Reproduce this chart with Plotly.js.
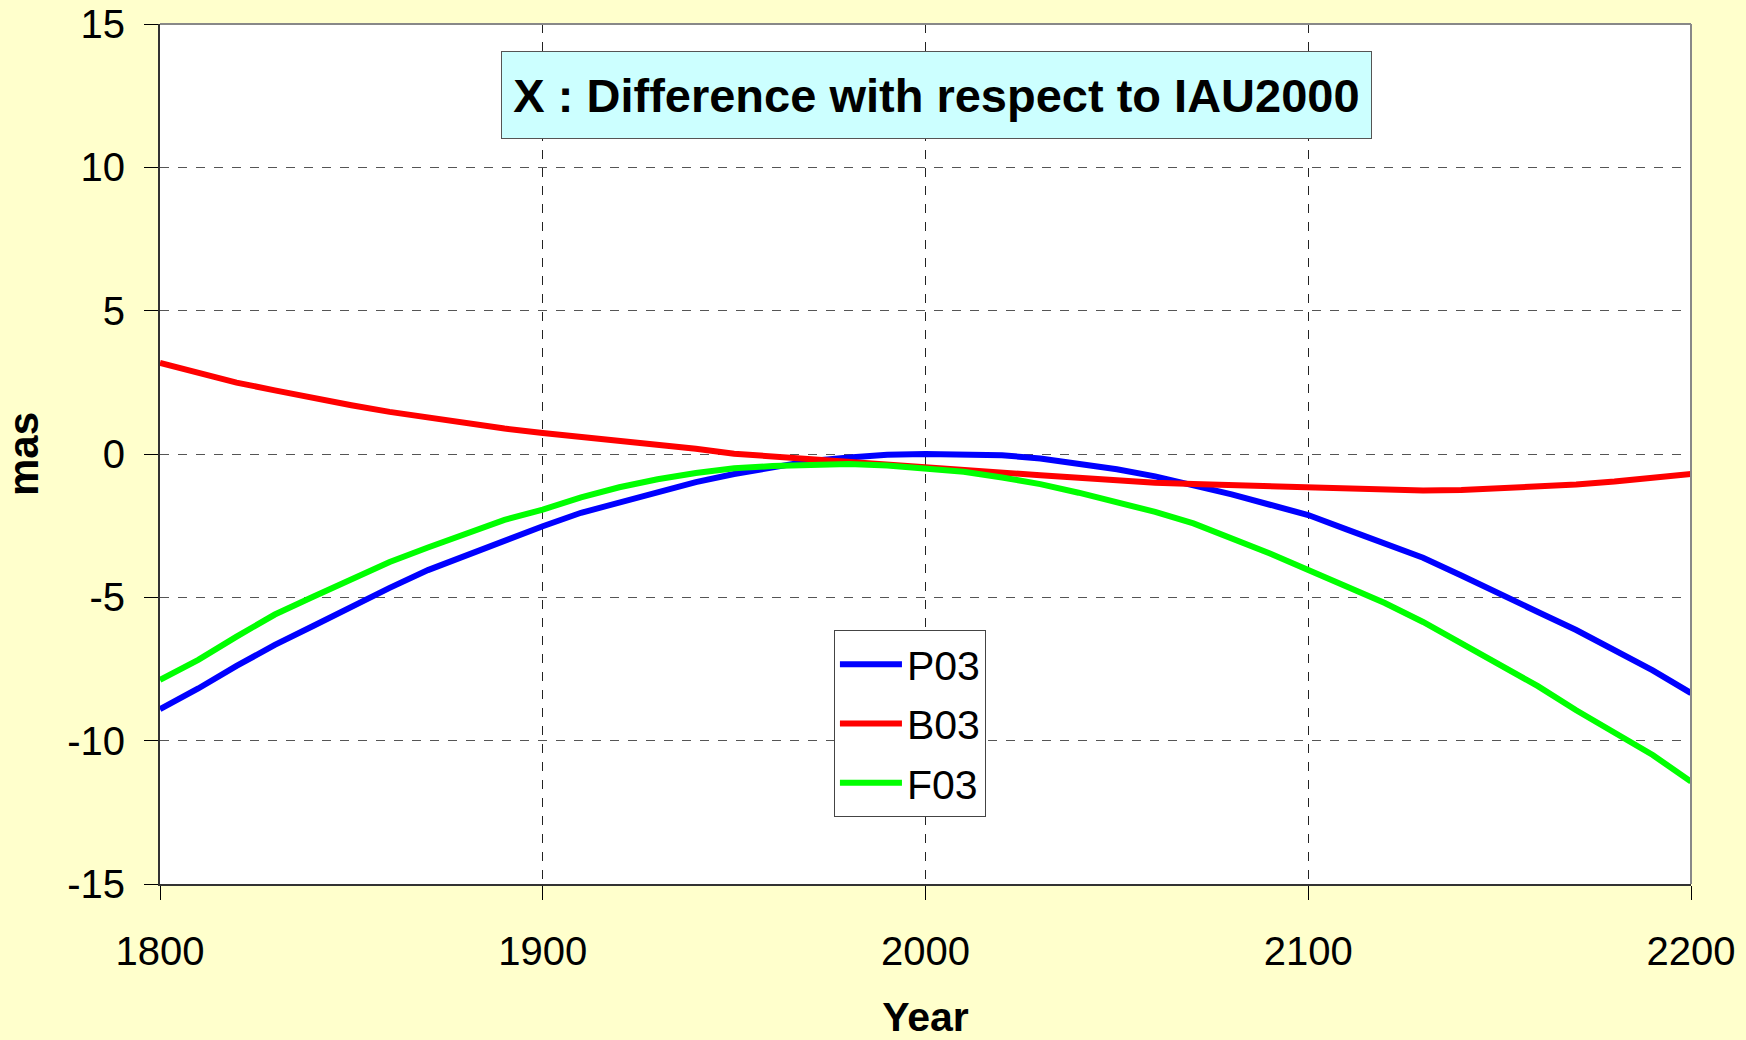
<!DOCTYPE html>
<html>
<head>
<meta charset="utf-8">
<script src="https://cdn.plot.ly/plotly-3.0.1.min.js"></script>
<style>
  html, body { margin: 0; padding: 0; background: #FFFFCC; }
  #chart { width: 1746px; height: 1040px; }
</style>
</head>
<body>
<div id="chart"></div>
<script>
const years = [1800,1810,1820,1830,1840,1850,1860,1870,1880,1890,
               1900,1910,1920,1930,1940,1950,1960,1970,1980,1990,
               2000,2010,2020,2030,2040,2050,2060,2070,2080,2090,
               2100,2110,2120,2130,2140,2150,2160,2170,2180,2190,2200];

const p03 = [-8.90,-8.18,-7.39,-6.66,-6.00,-5.33,-4.67,-4.05,-3.53,-3.00,
             -2.52,-2.05,-1.68,-1.33,-0.98,-0.70,-0.46,-0.24,-0.12,-0.03,
              0.00, 0.00,-0.04,-0.16,-0.33,-0.53,-0.78,-1.07,-1.41,-1.77,
             -2.13,-2.63,-3.13,-3.62,-4.24,-4.90,-5.51,-6.14,-6.83,-7.55,-8.34];

const b03 = [ 3.18, 2.85, 2.49, 2.22, 1.95, 1.70, 1.47, 1.27, 1.06, 0.89,
              0.73, 0.60, 0.46, 0.32, 0.18, 0.01,-0.09,-0.18,-0.25,-0.35,
             -0.48,-0.57,-0.66,-0.74,-0.83,-0.93,-1.00,-1.05,-1.09,-1.14,
             -1.19,-1.24,-1.27,-1.27,-1.26,-1.20,-1.12,-1.06,-0.96,-0.84,-0.70];

const f03 = [-7.88,-7.18,-6.37,-5.60,-4.98,-4.35,-3.77,-3.26,-2.80,-2.30,
             -1.94,-1.51,-1.16,-0.88,-0.66,-0.50,-0.42,-0.37,-0.35,-0.40,
             -0.49,-0.62,-0.82,-1.05,-1.35,-1.68,-2.02,-2.42,-2.92,-3.47,
             -4.05,-4.65,-5.20,-5.86,-6.60,-7.34,-8.10,-8.94,-9.72,-10.50,-11.43];

const seriesNames = ['P03','B03','F03'];
const xTickVals = [1800,1900,2000,2100,2200];
const xTickText = ['1800','1900','2000','2100','2200'];
const yTickVals = [-15,-10,-5,0,5,10,15];
const yTickText = ['-15','-10','-5','0','5','10','15'];
const chartTitle = 'X : Difference with respect to IAU2000';
const xTitle = 'Year';
const yTitle = 'mas';

const FONT = 'Liberation Sans, Arial, Helvetica, sans-serif';

const traces = [
  {x: years, y: p03, name: seriesNames[0], legendgroup: 'g1', type: 'scatter', mode: 'lines',
   line: {color: '#0000FF', width: 6}},
  {x: years, y: b03, name: seriesNames[1], legendgroup: 'g2', type: 'scatter', mode: 'lines',
   line: {color: '#FF0000', width: 6}},
  {x: years, y: f03, name: seriesNames[2], legendgroup: 'g3', type: 'scatter', mode: 'lines',
   line: {color: '#00FF00', width: 6}}
];

const layout = {
  width: 1746, height: 1040,
  paper_bgcolor: '#FFFFCC',
  plot_bgcolor: '#FFFFFF',
  margin: {l: 160, r: 55, t: 24, b: 156},
  font: {family: FONT, color: '#000000', size: 40},
  showlegend: true,
  legend: {
    x: 0.4402, y: 0.2953, xanchor: 'left', yanchor: 'top',
    bgcolor: '#FFFFFF', bordercolor: '#444444', borderwidth: 1,
    font: {family: FONT, size: 41, color: '#000000'},
    tracegroupgap: 3,
    itemwidth: 62
  },
  xaxis: {
    range: [1800, 2200],
    tickvals: xTickVals, ticktext: xTickText,
    ticks: 'outside', ticklen: 14, tickwidth: 1, tickcolor: '#000000',
    showline: true, linecolor: '#333333', linewidth: 2,
    showgrid: true, gridcolor: '#222222', gridwidth: 1, griddash: 'dash',
    zeroline: false,
    tickfont: {family: FONT, size: 40, color: '#000000'},
    ticklabelstandoff: 17,
    title: {text: xTitle, font: {family: FONT, size: 41, color: '#000000', weight: 'bold'}, standoff: 30}
  },
  yaxis: {
    range: [-15, 15],
    tickvals: yTickVals, ticktext: yTickText,
    ticks: 'outside', ticklen: 14, tickwidth: 1, tickcolor: '#000000',
    showline: true, linecolor: '#333333', linewidth: 2,
    showgrid: true, gridcolor: '#555555', gridwidth: 1, griddash: 'dash',
    zeroline: false,
    tickfont: {family: FONT, size: 40, color: '#000000'},
    ticklabelstandoff: 11,
    title: {text: yTitle, font: {family: FONT, size: 42, color: '#000000', weight: 'bold'}, standoff: 34}
  },
  shapes: [
    {type: 'line', xref: 'paper', yref: 'paper', x0: 0, x1: 1, y0: 1, y1: 1,
     line: {color: '#888888', width: 2}},
    {type: 'line', xref: 'paper', yref: 'paper', x0: 1, x1: 1, y0: 0, y1: 1,
     line: {color: '#888888', width: 2}}
  ],
  annotations: [
    {text: '<b>' + chartTitle + '</b>', xref: 'paper', yref: 'paper',
     x: 0.5072, y: 0.917, xanchor: 'center', yanchor: 'middle', showarrow: false,
     bgcolor: '#CCFFFF', bordercolor: '#555555', borderwidth: 1, borderpad: 2,
     width: 865, height: 82,
     font: {family: FONT, size: 47, color: '#000000'}}
  ]
};

Plotly.newPlot('chart', traces, layout, {displayModeBar: false, staticPlot: true});
</script>
</body>
</html>
